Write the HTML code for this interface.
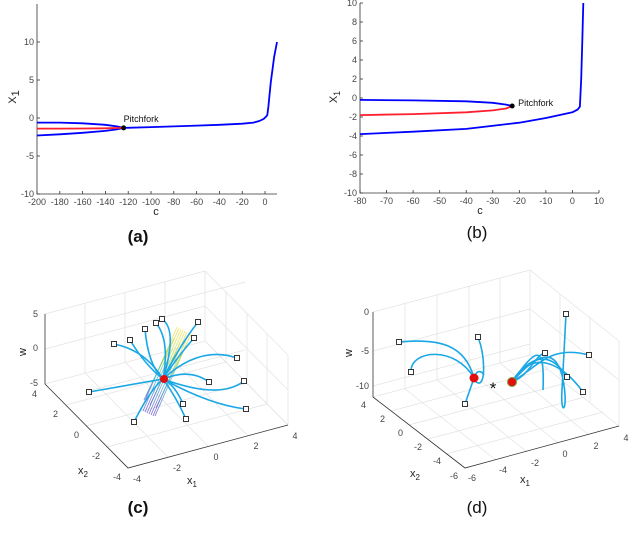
<!DOCTYPE html>
<html><head><meta charset="utf-8"><style>
html,body{margin:0;padding:0;background:#fff;}
svg{display:block;font-family:"Liberation Sans",Arial,sans-serif;}
.tk{font-size:9px;fill:#444;}
.lbl{font-size:11px;fill:#222;}
.cap{font-size:17px;font-weight:bold;fill:#111;}
.ax{stroke:#333;stroke-width:0.8;fill:none;}
.gr{stroke:#e2e2e2;stroke-width:0.7;fill:none;}
.traj{stroke:#1aa7e6;stroke-width:1.6;fill:none;}
.sq{fill:#fff;stroke:#222;stroke-width:0.9;}
.sf{stroke:url(#surfGrad);stroke-width:0.9;fill:none;opacity:0.8;}
</style></head><body>
<svg id="fig" width="640" height="538" viewBox="0 0 640 538">
<defs>
  <linearGradient id="surfGrad" gradientUnits="userSpaceOnUse" x1="184" y1="330" x2="148" y2="413">
    <stop offset="0" stop-color="#f5e04a"/><stop offset="0.35" stop-color="#a8d65a"/>
    <stop offset="0.6" stop-color="#4fb8c8"/><stop offset="1" stop-color="#6a4fd0"/>
  </linearGradient>
</defs>
<g id="panelA"></g>
<g id="panelB"></g>
<text class="cap" x="138" y="242" text-anchor="middle">(a)</text>
<text class="cap" x="477" y="238" text-anchor="middle" style="font-weight:normal">(b)</text>

<!-- Panel C 3D -->
<g id="panelC">
  <g>
    <path class="gr" d="M45,314 L205,271 M85,324 L245,282 M45,349 L205,306 M85,392 L245,350 M45,384 L205,341 L288,425"/>
    <path class="gr" d="M205,271 L205,341 M205,341 L288,425 M205,271 L288,355 M205,306 L288,390 M288,355 L288,425 M226,292 L226,362 M247,313 L247,383 M267,334 L267,404 M85,303 L85,373 M125,292 L125,362 M165,282 L165,352"/>
    <path class="gr" d="M66,405 L226,362 M86,426 L247,383 M107,447 L267,404 M85,373 L168,457 M125,362 L208,446 M165,352 L248,436"/>
  </g>
  <path class="ax" d="M45,314 L45,384 L128,468 L288,425"/>
  <g>
    <path class="sf" d="M141,410 L177,327"/><path class="sf" d="M143,411 L179,328"/>
    <path class="sf" d="M145,412 L181,329"/><path class="sf" d="M147,413 L183,330"/>
    <path class="sf" d="M149,414 L185,331"/><path class="sf" d="M151,415 L187,332"/>
    <path class="sf" d="M153,416 L189,333"/><path class="sf" d="M155,416 L191,334"/>
    <path class="sf" d="M144,400 L174,338"/><path class="sf" d="M150,405 L180,343"/>
    <path class="sf" d="M156,408 L186,345"/><path class="sf" d="M146,396 L170,345"/>
  </g>
  <g>
    <path class="traj" d="M114,344 Q145,350 163,379"/><path class="traj" d="M130,340 Q145,365 163,379"/>
    <path class="traj" d="M145,329 Q148,365 163,379"/><path class="traj" d="M156,323 Q170,340 163,379"/>
    <path class="traj" d="M162,319 Q178,330 163,379"/><path class="traj" d="M198,322 Q180,345 163,379"/>
    <path class="traj" d="M194,338 Q175,360 163,379"/><path class="traj" d="M237,358 Q200,345 163,379"/>
    <path class="traj" d="M209,382 Q190,368 163,379"/><path class="traj" d="M244,381 Q220,400 163,379"/>
    <path class="traj" d="M246,409 Q210,405 163,379"/><path class="traj" d="M183,404 Q175,385 163,379"/>
    <path class="traj" d="M186,419 Q175,395 163,379"/><path class="traj" d="M134,422 Q150,390 163,379"/>
    <path class="traj" d="M89,392 L163,379"/>
  </g>
  <g>
    <rect class="sq" x="111.5" y="341.5" width="5" height="5"/><rect class="sq" x="127.5" y="337.5" width="5" height="5"/>
    <rect class="sq" x="142.5" y="326.5" width="5" height="5"/><rect class="sq" x="153.5" y="320.5" width="5" height="5"/>
    <rect class="sq" x="159.5" y="316.5" width="5" height="5"/><rect class="sq" x="195.5" y="319.5" width="5" height="5"/>
    <rect class="sq" x="191.5" y="335.5" width="5" height="5"/><rect class="sq" x="234.5" y="355.5" width="5" height="5"/>
    <rect class="sq" x="206.5" y="379.5" width="5" height="5"/><rect class="sq" x="241.5" y="378.5" width="5" height="5"/>
    <rect class="sq" x="243.5" y="406.5" width="5" height="5"/><rect class="sq" x="180.5" y="401.5" width="5" height="5"/>
    <rect class="sq" x="183.5" y="416.5" width="5" height="5"/><rect class="sq" x="131.5" y="419.5" width="5" height="5"/>
    <rect class="sq" x="86.5" y="389.5" width="5" height="5"/>
  </g>
  <circle cx="164" cy="379" r="4" fill="#e01010"/>
  <g class="tk">
    <text x="38" y="317" text-anchor="end">5</text><text x="38" y="351" text-anchor="end">0</text><text x="38" y="386" text-anchor="end">-5</text>
    <text x="37" y="397" text-anchor="end">4</text><text x="58" y="417" text-anchor="end">2</text><text x="79" y="438" text-anchor="end">0</text>
    <text x="100" y="459" text-anchor="end">-2</text><text x="121" y="480" text-anchor="end">-4</text>
    <text x="137" y="482" text-anchor="middle">-4</text><text x="177" y="471" text-anchor="middle">-2</text><text x="216" y="460" text-anchor="middle">0</text>
    <text x="256" y="449" text-anchor="middle">2</text><text x="295" y="439" text-anchor="middle">4</text>
  </g>
  <text class="lbl" transform="translate(26,352) rotate(-90)" text-anchor="middle">w</text>
  <text class="lbl" x="78" y="474">x<tspan font-size="8" dy="3">2</tspan></text>
  <text class="lbl" x="187" y="484">x<tspan font-size="8" dy="3">1</tspan></text>
  <text class="cap" x="138" y="513" text-anchor="middle">(c)</text>
</g>

<!-- Panel D 3D -->
<g id="panelD">
  <g>
    <path class="gr" d="M373,312 L530,270 M373,351 L530,309 M373,386 L530,344 M373,397 L530,355 L619,426"/>
    <path class="gr" d="M530,270 L530,355 M530,270 L619,341 M530,309 L619,380 M619,341 L619,426 M405,304 L405,389 M437,295 L437,380 M469,286 L469,371 M500,278 L500,363 M560,294 L560,379 M590,317 L590,402"/>
    <path class="gr" d="M391,411 L548,369 M409,425 L566,383 M428,439 L585,397 M446,454 L603,412 M405,389 L496,460 M437,380 L527,452 M469,371 L558,443 M500,363 L589,435"/>
  </g>
  <path class="ax" d="M373,312 L373,397 L465,468 L619,426"/>
  <g>
    <path class="traj" d="M399,342 C440,338 465,345 474,378"/>
    <path class="traj" d="M411,372 C410,350 455,345 474,378"/>
    <path class="traj" d="M478,337 C485,355 486,385 478,383 C470,380 478,365 484,375"/>
    <path class="traj" d="M465,404 L474,378"/>
    <path class="traj" d="M512,382 C530,375 535,355 545,353"/>
    <path class="traj" d="M512,382 C540,365 550,345 589,355"/>
    <path class="traj" d="M566,314 L562,390 C560,420 570,410 562,375 C555,350 540,350 512,382"/>
    <path class="traj" d="M567,377 C550,350 530,355 512,382"/>
    <path class="traj" d="M583,392 C560,360 530,350 512,382"/>
    <path class="traj" d="M512,382 C535,350 545,340 543,390"/>
  </g>
  <g>
    <rect class="sq" x="396.5" y="339.5" width="5" height="5"/><rect class="sq" x="408.5" y="369.5" width="5" height="5"/>
    <rect class="sq" x="475.5" y="334.5" width="5" height="5"/><rect class="sq" x="462.5" y="401.5" width="5" height="5"/>
    <rect class="sq" x="563.5" y="311.5" width="5" height="5"/><rect class="sq" x="542.5" y="350.5" width="5" height="5"/>
    <rect class="sq" x="586.5" y="352.5" width="5" height="5"/><rect class="sq" x="564.5" y="374.5" width="5" height="5"/>
    <rect class="sq" x="580.5" y="389.5" width="5" height="5"/>
  </g>
  <circle cx="474" cy="378" r="4.5" fill="#e01010"/>
  <circle cx="512" cy="382" r="4.5" fill="#e01010" stroke="#7a9a30" stroke-width="1"/>
  <text x="493" y="394" text-anchor="middle" font-size="17" fill="#111">*</text>
  <g class="tk">
    <text x="369" y="315" text-anchor="end">0</text><text x="369" y="354" text-anchor="end">-5</text><text x="369" y="389" text-anchor="end">-10</text>
    <text x="366" y="408" text-anchor="end">4</text><text x="385" y="422" text-anchor="end">2</text><text x="403" y="436" text-anchor="end">0</text>
    <text x="422" y="450" text-anchor="end">-2</text><text x="441" y="464" text-anchor="end">-4</text><text x="458" y="479" text-anchor="end">-6</text>
    <text x="472" y="481" text-anchor="middle">-6</text><text x="503" y="473" text-anchor="middle">-4</text><text x="535" y="466" text-anchor="middle">-2</text>
    <text x="565" y="457" text-anchor="middle">0</text><text x="596" y="449" text-anchor="middle">2</text><text x="626" y="441" text-anchor="middle">4</text>
  </g>
  <text class="lbl" transform="translate(352,353) rotate(-90)" text-anchor="middle">w</text>
  <text class="lbl" x="410" y="477">x<tspan font-size="8" dy="3">2</tspan></text>
  <text class="lbl" x="520" y="483">x<tspan font-size="8" dy="3">1</tspan></text>
  <text class="cap" x="477" y="513" text-anchor="middle" style="font-weight:normal">(d)</text>
</g>
</svg>
<script>
// ---- Panel (a) data ----
const aTicksX = [-200,-180,-160,-140,-120,-100,-80,-60,-40,-20,0];
const aTicksY = [-10,-5,0,5,10];
const aUpperC = [-200,-180,-160,-140,-130,-124];
const aUpperX = [-0.6,-0.6,-0.7,-0.9,-1.1,-1.3];
const aLowerC = [-200,-180,-160,-140,-130,-124];
const aLowerX = [-2.3,-2.15,-1.95,-1.7,-1.5,-1.3];
const aRedC = [-200,-180,-160,-140,-130,-124];
const aRedX = [-1.4,-1.4,-1.38,-1.35,-1.32,-1.3];
const aMainC = [-124,-100,-80,-60,-40,-20,-10,-5,-1,1,2,3,5,8,10.5];
const aMainX = [-1.3,-1.2,-1.1,-1.0,-0.9,-0.75,-0.6,-0.4,-0.1,0.2,0.4,1.5,4.6,8,10];
const aPitch = [-124,-1.3];
// ---- Panel (b) data ----
const bTicksX = [-80,-70,-60,-50,-40,-30,-20,-10,0,10];
const bTicksY = [-10,-8,-6,-4,-2,0,2,4,6,8,10];
const bUpperC = [-80,-60,-40,-30,-25,-22.7];
const bUpperX = [-0.2,-0.25,-0.35,-0.5,-0.7,-0.84];
const bRedC = [-80,-60,-40,-30,-25,-22.7];
const bRedX = [-1.8,-1.7,-1.5,-1.3,-1.1,-0.84];
const bLowerC = [-80,-60,-40,-20,-10,-5,0,2,2.8,3.3,3.7,4.1];
const bLowerX = [-3.8,-3.55,-3.25,-2.6,-2.1,-1.8,-1.5,-1.2,-0.9,2,6,10];
const bPitch = [-22.7,-0.84];

const NS = "http://www.w3.org/2000/svg";
function mk(parent, tag, attrs){const e=document.createElementNS(NS,tag);for(const k in attrs)e.setAttribute(k,attrs[k]);parent.appendChild(e);return e;}

function drawPanel(g, o){
  const sx = v => o.x0 + (v - o.cmin)/(o.cmax - o.cmin)*(o.x1 - o.x0);
  const sy = v => o.y0 - (v - o.ymin)/(o.ymax - o.ymin)*(o.y0 - o.y1);
  const ax = mk(g,'path',{d:`M${o.x0},${o.ytop} L${o.x0},${o.y0} L${o.x1},${o.y0}`,class:'ax'});
  
  
  o.tx.forEach(v=>{
    const X=sx(v);
    mk(g,'path',{d:`M${X},${o.y0} L${X},${o.y0-3}`,class:'ax'});
    const t=mk(g,'text',{x:X,y:o.y0+11,class:'tk','text-anchor':'middle'});t.textContent=v;
    
    
  });
  o.ty.forEach(v=>{
    const Y=sy(v);
    mk(g,'path',{d:`M${o.x0},${Y} L${o.x0+3},${Y}`,class:'ax'});
    const t=mk(g,'text',{x:o.x0-3,y:Y+3,class:'tk','text-anchor':'end'});t.textContent=v;
    
    
  });
  o.series.forEach(s=>{
    const d=s.c.map((c,i)=>(i?'L':'M')+sx(c).toFixed(1)+','+sy(s.x[i]).toFixed(1)).join(' ');
    const p=mk(g,'path',{d:d,stroke:s.col,'stroke-width':1.8,fill:'none','stroke-linejoin':'round'});
    
    
  });
  const pt=mk(g,'circle',{cx:sx(o.pitch[0]),cy:sy(o.pitch[1]),r:2.5,fill:'#000'});
  
  
  const pl=mk(g,'text',{x:sx(o.pitch[0])+o.plx,y:sy(o.pitch[1])+o.ply,'font-size':9,fill:'#111'});
  pl.textContent='Pitchfork';
  
  
  const xl=mk(g,'text',{x:o.cx,y:o.cy,class:'lbl','text-anchor':'middle'});xl.textContent='c';
  
  
  const yl=mk(g,'text',{transform:`translate(${o.lx},${o.ly}) rotate(-90)`,class:'lbl','font-size':o.lfs,'text-anchor':'middle'});
  yl.innerHTML='X<tspan font-size="'+(o.lfs-3)+'" dy="3">1</tspan>';
  
  
}

drawPanel(document.getElementById('panelA'),{id:'panel-a',x0:37,x1:277,cmin:-200,cmax:10.5,y0:194,y1:42,ymin:-10,ymax:10,ytop:4,
  tx:aTicksX,ty:aTicksY,pitch:aPitch,plx:0,ply:-6,cx:156,cy:215,lx:16,ly:97,lfs:14,
  series:[{name:'upper-stable-branch',c:aUpperC,x:aUpperX,col:'#0000ff'},{name:'lower-stable-branch',c:aLowerC,x:aLowerX,col:'#0000ff'},
          {name:'unstable-branch',c:aRedC,x:aRedX,col:'#ff1f2f'},{name:'main-branch',c:aMainC,x:aMainX,col:'#0000ff'}]});
drawPanel(document.getElementById('panelB'),{id:'panel-b',x0:360,x1:599,cmin:-80,cmax:10,y0:193,y1:3,ymin:-10,ymax:10,ytop:3,
  tx:bTicksX,ty:bTicksY,pitch:bPitch,plx:6,ply:0,cx:480,cy:214,lx:337,ly:97,lfs:12,
  series:[{name:'upper-stable-branch',c:bUpperC,x:bUpperX,col:'#0000ff'},{name:'unstable-branch',c:bRedC,x:bRedX,col:'#ff1f2f'},
          {name:'lower-stable-branch',c:bLowerC,x:bLowerX,col:'#0000ff'}]});
</script>
</body></html>
